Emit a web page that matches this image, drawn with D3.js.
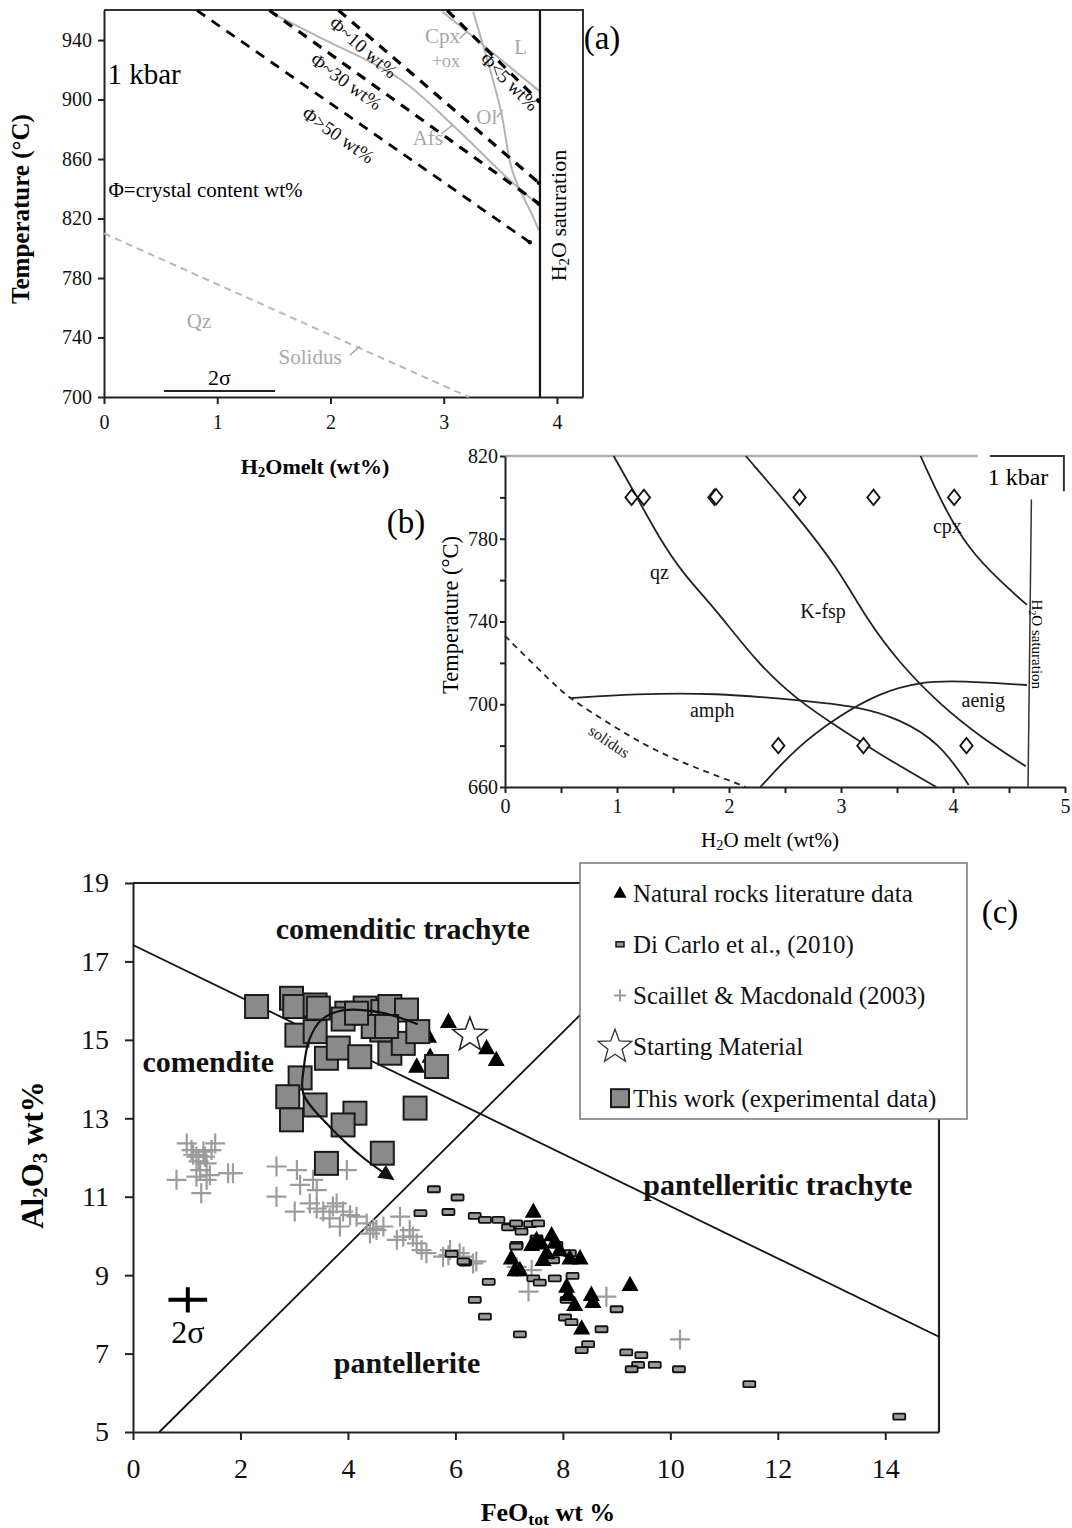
<!DOCTYPE html>
<html>
<head>
<meta charset="utf-8">
<script src="https://cdn.jsdelivr.net/npm/d3@7"></script>
<style>
  body { margin: 0; background: #fff; }
  svg { display: block; }
</style>
</head>
<body>
<svg id="fig" width="1072" height="1528"></svg>
<script>
// ---------------- panel (a) data ----------------
const aXTicks = [0, 1, 2, 3, 4];
const aYTicks = [700, 740, 780, 820, 860, 900, 940];
const phi5 = [[3.03, 960], [3.84, 899]];
const phi10 = [[2.07, 960], [3.84, 844]];
const phi30 = [[1.46, 960], [3.84, 830]];
const phi50 = [[0.82, 960], [3.76, 804]];
const afsCurve = [[1.46, 959], [1.9, 942], [2.61, 914], [3.09, 882], [3.58, 846], [3.84, 829]];
const olCurve = [[3.26, 959], [3.5, 894], [3.61, 851], [3.79, 821], [3.84, 812]];
const cpxOxLine = [[2.99, 959], [3.84, 906]];
const solidusA = [[0, 810], [3.22, 700]];
const saturationA = 3.85;
const sigmaA = [[0.53, 704], [1.51, 704]];

// ---------------- panel (b) data ----------------
const bXTicks = [0, 0.5, 1, 1.5, 2, 2.5, 3, 3.5, 4, 4.5, 5];
const bYTicks = [660, 680, 700, 720, 740, 760, 780, 800, 820];
const qzCurve = [[0.97, 820], [1.19, 799], [1.37, 781], [1.59, 763], [1.88, 746], [2.25, 720], [2.61, 702], [2.97, 689], [3.34, 676], [3.85, 660]];
const kfspCurve = [[2.15, 820], [2.61, 791], [2.97, 766], [3.23, 741], [3.52, 720], [3.88, 700], [4.25, 684], [4.65, 670]];
const cpxCurveB = [[3.71, 820], [3.92, 795], [4.14, 775], [4.43, 759], [4.66, 748]];
const amphCurve = [[0.59, 703], [1.15, 705], [1.88, 705.5], [2.61, 702], [3.15, 699], [3.52, 693], [3.88, 681.5], [4.14, 661]];
const aenigCurve = [[2.28, 660], [2.61, 679.5], [2.97, 694], [3.34, 705.4], [3.71, 711], [4.07, 711.3], [4.66, 709.3]];
const solidusB = [[0, 733], [0.28, 718], [0.49, 707], [0.6, 702], [1.15, 683], [1.52, 673], [2.06, 662], [2.15, 660]];
const saturationB = [[4.70, 799], [4.67, 660]];
const bDiamonds = [[1.13, 800], [1.24, 800], [1.87, 800], [1.885, 800.3], [2.63, 800], [3.29, 800], [4.01, 800], [2.44, 680], [3.2, 680], [4.12, 680]];

// ---------------- panel (c) data ----------------
const cXTicks = [0, 2, 4, 6, 8, 10, 12, 14];
const cYTicks = [5, 7, 9, 11, 13, 15, 17, 19];
const trachyteLine = [[0, 17.42], [15, 7.43]];
const pantelleriteLine = [[0.49, 5], [10.8, 19]];
const thisWork = [
  [2.30, 15.85], [2.95, 16.06], [3.01, 15.85], [3.39, 15.89], [3.45, 15.81], [3.05, 15.12], [3.39, 15.21],
  [3.60, 14.53], [3.82, 14.79], [3.98, 15.68], [4.22, 14.57], [4.32, 15.81], [4.65, 15.72], [4.78, 15.85],
  [5.09, 15.76], [4.63, 15.25], [4.78, 14.66], [5.03, 14.91], [4.47, 15.34], [5.30, 15.21], [5.65, 14.32],
  [3.11, 14.03], [2.88, 13.55], [2.95, 12.96], [3.39, 13.34], [4.13, 13.13], [3.91, 12.83], [5.25, 13.26],
  [4.64, 12.11], [3.60, 11.85], [3.91, 15.53], [4.16, 15.68], [4.72, 15.34]
];
const naturalRocks = [
  [5.87, 15.46], [5.50, 15.08], [5.53, 14.57], [5.28, 14.32], [6.58, 14.79], [6.76, 14.49],
  [7.45, 10.62], [7.79, 10.02], [7.85, 9.85], [7.42, 9.77], [7.60, 9.81], [7.94, 9.64], [7.70, 9.56],
  [8.13, 9.43], [8.32, 9.43], [7.04, 9.43], [7.11, 9.13], [7.63, 9.39], [8.07, 8.71], [8.10, 8.50],
  [8.22, 8.24], [8.53, 8.50], [8.56, 8.32], [9.25, 8.75], [8.35, 7.64], [7.20, 9.13], [7.51, 9.90]
];
const diCarlo = [
  [5.60, 11.19], [6.04, 10.98], [5.87, 10.61], [5.35, 10.58], [6.36, 10.51], [6.55, 10.41], [6.80, 10.41],
  [7.01, 10.24], [7.23, 10.11], [7.14, 9.77], [6.62, 8.83], [5.93, 9.54], [6.18, 9.32], [6.98, 10.22],
  [7.13, 10.32], [7.39, 10.30], [7.54, 10.32], [7.51, 9.94], [7.13, 9.73], [7.88, 9.77], [8.13, 9.56],
  [7.82, 9.38], [6.15, 9.35], [7.45, 8.92], [7.57, 8.81], [7.85, 8.92], [8.18, 8.98], [6.36, 8.37],
  [8.07, 8.37], [6.55, 7.94], [8.04, 7.92], [8.16, 7.80], [7.20, 7.49], [8.72, 7.62], [9.00, 8.13],
  [8.47, 7.24], [8.35, 7.09], [9.18, 7.03], [9.46, 6.96], [9.40, 6.71], [9.28, 6.60], [9.71, 6.71],
  [10.16, 6.60], [11.47, 6.22], [14.26, 5.39]
];
const scaillet = [
  [1.00, 12.36], [1.09, 12.19], [1.18, 12.02], [1.34, 12.02], [1.46, 12.19], [1.53, 12.36], [1.37, 11.85],
  [1.25, 11.68], [1.43, 11.55], [0.81, 11.43], [1.77, 11.60], [1.86, 11.60], [1.27, 11.09], [1.37, 11.43],
  [1.18, 11.51], [1.12, 12.07], [1.31, 12.15], [1.22, 11.90],
  [2.67, 11.77], [3.05, 11.68], [3.11, 11.30], [3.35, 11.43], [3.42, 11.17], [2.67, 11.00], [3.98, 11.68],
  [3.01, 10.62], [3.29, 10.83], [3.42, 10.70], [3.54, 10.62], [3.72, 10.75], [3.79, 10.83], [3.91, 10.62],
  [4.04, 10.53], [4.16, 10.49], [3.85, 10.24], [3.66, 10.45], [4.35, 10.32], [4.47, 10.19], [4.53, 10.15],
  [4.41, 10.06], [4.66, 10.24], [4.97, 10.49], [4.91, 9.90], [5.03, 9.98], [5.15, 10.15], [5.21, 9.98],
  [5.28, 9.81], [5.37, 9.64], [5.46, 9.56], [5.77, 9.47], [5.90, 9.64], [6.15, 9.47], [6.33, 9.30],
  [5.87, 9.51], [6.08, 9.56], [6.39, 9.35], [7.14, 9.21], [7.42, 9.13], [7.36, 8.58], [8.81, 8.45],
  [10.18, 7.36]
];
const startingMaterial = [[6.27, 15.12]];
const evolutionArrow = [[5.3, 15.4], [4.6, 15.7], [3.9, 15.75], [3.5, 15.5], [3.28, 15.0], [3.18, 14.3], [3.17, 13.63], [3.67, 12.77], [4.28, 12.0], [4.84, 11.45]];
const sigmaC = [1.02, 8.37, 0.36, 0.32];

const serif = '"Liberation Serif","Times New Roman",serif';
const svg = d3.select("#fig").attr("font-family", serif);

function styleAxis(g, size) {
  g.attr("font-family", serif).attr("font-size", size);
  g.selectAll("text").attr("fill", "#111");
  g.selectAll("path, line").attr("stroke", "#222").attr("stroke-width", 2);
}

// text with subscripts: parts = [[string, isSub], ...]
function rich(t, parts, size) {
  let wasSub = false;
  parts.forEach(([s, sub]) => {
    const span = t.append("tspan").text(s);
    if (sub) {
      span.attr("font-size", size * 0.68).attr("dy", size * 0.25);
      wasSub = true;
    } else if (wasSub) {
      span.attr("dy", -size * 0.25);
      wasSub = false;
    }
  });
  return t;
}

// ======================= (a) =======================
const xA = d3.scaleLinear().domain([0, 4.23]).range([104, 583]);
const yA = d3.scaleLinear().domain([700, 960.2]).range([397, 10]);
const lineA = d3.line().x(d => xA(d[0])).y(d => yA(d[1]));
const pA = svg.append("g").attr("class", "panel-a");

pA.append("path")
  .attr("d", `M${xA(0)},${yA(960.2)}H${xA(4.23)}V${yA(700)}`)
  .attr("fill", "none").attr("stroke", "#333").attr("stroke-width", 2);

pA.append("g").attr("transform", `translate(0,${yA(700)})`)
  .call(d3.axisBottom(xA).tickValues(aXTicks).tickSize(7).tickSizeOuter(0).tickPadding(11).tickFormat(d3.format("d")))
  .call(styleAxis, 20);
pA.append("g").attr("transform", `translate(${xA(0)},0)`)
  .call(d3.axisLeft(yA).tickValues(aYTicks).tickSize(6).tickSizeOuter(0).tickPadding(6))
  .call(styleAxis, 20);

// gray phase boundaries
[afsCurve, olCurve, cpxOxLine].forEach(c => {
  pA.append("path").datum(c)
    .attr("d", lineA.curve(d3.curveCatmullRom))
    .attr("fill", "none").attr("stroke", "#b4b4b4").attr("stroke-width", 2);
});
lineA.curve(d3.curveLinear);

pA.append("path").datum(solidusA).attr("d", lineA)
  .attr("fill", "none").attr("stroke", "#b8b8b8").attr("stroke-width", 2)
  .attr("stroke-dasharray", "7,5");

// H2O saturation
pA.append("line")
  .attr("x1", xA(saturationA)).attr("x2", xA(saturationA))
  .attr("y1", yA(960.2)).attr("y2", yA(700))
  .attr("stroke", "#111").attr("stroke-width", 2.2);

// crystal content lines
const phiLines = [
  { pts: phi5, label: "Φ<5 wt%", at: [3.58, 912], w: 3.2 },
  { pts: phi10, label: "Φ~10 wt%", at: [2.29, 935], w: 3.2 },
  { pts: phi30, label: "Φ~30 wt%", at: [2.14, 912], w: 3.2 },
  { pts: phi50, label: "Φ>50 wt%", at: [2.07, 876], w: 2.8 }
];
phiLines.forEach(p => {
  pA.append("path").datum(p.pts).attr("d", lineA)
    .attr("fill", "none").attr("stroke", "#000").attr("stroke-width", p.w)
    .attr("stroke-dasharray", "10,8");
  const end = p.pts[1];
  pA.append("circle").attr("cx", xA(end[0])).attr("cy", yA(end[1])).attr("r", 2.2).attr("fill", "#000");
  const a = Math.atan2(yA(p.pts[1][1]) - yA(p.pts[0][1]), xA(p.pts[1][0]) - xA(p.pts[0][0])) * 180 / Math.PI;
  pA.append("text")
    .attr("transform", `translate(${xA(p.at[0])},${yA(p.at[1])}) rotate(${a})`)
    .attr("text-anchor", "middle").attr("dominant-baseline", "central")
    .attr("font-size", 19).attr("fill", "#111").text(p.label);
});

// gray labels
const grayLabelsA = [
  { t: "Cpx", at: [2.99, 943], s: 21 },
  { t: "+ox", at: [3.02, 926], s: 18 },
  { t: "L", at: [3.68, 935], s: 21 },
  { t: "Ol", at: [3.38, 888], s: 21 },
  { t: "Afs", at: [2.86, 874], s: 21 },
  { t: "Qz", at: [0.84, 751], s: 21 },
  { t: "Solidus", at: [1.82, 727], s: 21 }
];
grayLabelsA.forEach(l => {
  pA.append("text").attr("x", xA(l.at[0])).attr("y", yA(l.at[1]))
    .attr("text-anchor", "middle").attr("dominant-baseline", "central")
    .attr("font-size", l.s).attr("fill", "#a8a8a8").text(l.t);
});
// little leader ticks
[[[3.14, 941], [3.21, 946]], [[3.47, 888], [3.52, 893]], [[2.98, 877], [3.08, 883]], [[2.17, 728], [2.26, 734]]].forEach(s => {
  pA.append("path").datum(s).attr("d", lineA)
    .attr("fill", "none").attr("stroke", "#aaa").attr("stroke-width", 1.5);
});

// 2 sigma bar
pA.append("path").datum(sigmaA).attr("d", lineA)
  .attr("stroke", "#222").attr("stroke-width", 2);
pA.append("text").attr("x", xA(1.02)).attr("y", yA(713))
  .attr("text-anchor", "middle").attr("dominant-baseline", "central")
  .attr("font-size", 22).text("2σ");

pA.append("text").attr("x", xA(0.03)).attr("y", yA(917))
  .attr("dominant-baseline", "central").attr("font-size", 29).text("1 kbar");
pA.append("text").attr("x", xA(0.04)).attr("y", yA(839))
  .attr("dominant-baseline", "central").attr("font-size", 21).text("Φ=crystal content wt%");

rich(pA.append("text")
  .attr("transform", `translate(${xA(4.01)},${yA(822)}) rotate(-90)`)
  .attr("text-anchor", "middle").attr("dominant-baseline", "central")
  .attr("font-size", 22), [["H"], ["2", true], ["O saturation"]], 22);

pA.append("text")
  .attr("transform", "translate(20,209) rotate(-90)")
  .attr("text-anchor", "middle").attr("dominant-baseline", "central")
  .attr("font-size", 25).attr("font-weight", "bold").text("Temperature (°C)");
rich(pA.append("text").attr("x", 315).attr("y", 466)
  .attr("text-anchor", "middle").attr("dominant-baseline", "central")
  .attr("font-size", 22).attr("font-weight", "bold"),
  [["H"], ["2", true], ["Omelt  (wt%)"]], 22);
pA.append("text").attr("x", 602).attr("y", 38)
  .attr("text-anchor", "middle").attr("dominant-baseline", "central")
  .attr("font-size", 33).text("(a)");

// ======================= (b) =======================
const xB = d3.scaleLinear().domain([0, 5]).range([505, 1065]);
const yB = d3.scaleLinear().domain([660, 820]).range([787, 456]);
const lineB = d3.line().x(d => xB(d[0])).y(d => yB(d[1]));
const pB = svg.append("g").attr("class", "panel-b");

pB.append("line").attr("x1", xB(0)).attr("x2", xB(4.22)).attr("y1", yB(820)).attr("y2", yB(820))
  .attr("stroke", "#b0b0b0").attr("stroke-width", 2.5);
pB.append("path").attr("d", `M${xB(4.33)},${yB(820)}H${xB(4.99)}V${yB(803)}`)
  .attr("fill", "none").attr("stroke", "#333").attr("stroke-width", 2);

pB.append("g").attr("transform", `translate(0,${yB(660)})`)
  .call(d3.axisBottom(xB).tickValues(bXTicks).tickSize(6).tickSizeOuter(0).tickPadding(6)
    .tickFormat(d => Number.isInteger(d) ? d : ""))
  .call(styleAxis, 20);
pB.append("g").attr("transform", `translate(${xB(0)},0)`)
  .call(d3.axisLeft(yB).tickValues(bYTicks).tickSize(5).tickSizeOuter(0).tickPadding(2)
    .tickFormat(d => d % 40 === 20 ? d : ""))
  .call(styleAxis, 20);

[qzCurve, kfspCurve, cpxCurveB, amphCurve, aenigCurve].forEach(c => {
  pB.append("path").datum(c).attr("d", lineB.curve(d3.curveBasis))
    .attr("fill", "none").attr("stroke", "#222").attr("stroke-width", 1.8);
});
pB.append("path").datum(solidusB).attr("d", lineB.curve(d3.curveBasis))
  .attr("fill", "none").attr("stroke", "#222").attr("stroke-width", 1.8)
  .attr("stroke-dasharray", "6,5");
pB.append("path").datum(saturationB).attr("d", lineB.curve(d3.curveLinear))
  .attr("fill", "none").attr("stroke", "#333").attr("stroke-width", 1.5);

const wideDiamond = {
  draw(ctx, size) {
    const h = Math.sqrt(size) / 2, w = h * 0.8;
    ctx.moveTo(0, -h); ctx.lineTo(w, 0); ctx.lineTo(0, h); ctx.lineTo(-w, 0); ctx.closePath();
  }
};
pB.selectAll(".diamond").data(bDiamonds).enter().append("path")
  .attr("class", "diamond")
  .attr("transform", d => `translate(${xB(d[0])},${yB(d[1])})`)
  .attr("d", d3.symbol(wideDiamond, 240))
  .attr("fill", "#fff").attr("stroke", "#111").attr("stroke-width", 1.8);

const labelsB = [
  { t: "qz", at: [1.38, 764] }, { t: "K-fsp", at: [2.84, 745] }, { t: "cpx", at: [3.95, 786] },
  { t: "amph", at: [1.85, 697] }, { t: "aenig", at: [4.27, 702] }
];
labelsB.forEach(l => {
  pB.append("text").attr("x", xB(l.at[0])).attr("y", yB(l.at[1]))
    .attr("text-anchor", "middle").attr("dominant-baseline", "central")
    .attr("font-size", 20).attr("fill", "#111").text(l.t);
});
pB.append("text")
  .attr("transform", `translate(${xB(0.93)},${yB(682)}) rotate(34)`)
  .attr("text-anchor", "middle").attr("dominant-baseline", "central")
  .attr("font-size", 16).attr("fill", "#222").text("solidus");
pB.append("text").attr("x", xB(4.58)).attr("y", yB(810))
  .attr("text-anchor", "middle").attr("dominant-baseline", "central")
  .attr("font-size", 24).text("1 kbar");
rich(pB.append("text")
  .attr("transform", `translate(${xB(4.75)},${yB(729)}) rotate(90)`)
  .attr("text-anchor", "middle").attr("dominant-baseline", "central")
  .attr("font-size", 15), [["H"], ["2", true], ["O saturation"]], 15);
pB.append("text")
  .attr("transform", "translate(450,615) rotate(-90)")
  .attr("text-anchor", "middle").attr("dominant-baseline", "central")
  .attr("font-size", 22.5).text("Temperature (°C)");
rich(pB.append("text").attr("x", 770).attr("y", 840)
  .attr("text-anchor", "middle").attr("dominant-baseline", "central")
  .attr("font-size", 21), [["H"], ["2", true], ["O melt (wt%)"]], 21);
pB.append("text").attr("x", 406).attr("y", 522)
  .attr("text-anchor", "middle").attr("dominant-baseline", "central")
  .attr("font-size", 33).text("(b)");

// ======================= (c) =======================
const xC = d3.scaleLinear().domain([0, 15]).range([133, 939]);
const yC = d3.scaleLinear().domain([5, 19]).range([1432, 883]);
const lineC = d3.line().x(d => xC(d[0])).y(d => yC(d[1]));
const pC = svg.append("g").attr("class", "panel-c");

pC.append("path").attr("d", `M${xC(0)},${yC(19)}H${xC(15)}V${yC(5)}`)
  .attr("fill", "none").attr("stroke", "#222").attr("stroke-width", 2.2);
pC.append("g").attr("transform", `translate(0,${yC(5)})`)
  .call(d3.axisBottom(xC).tickValues(cXTicks).tickSize(8).tickSizeOuter(0).tickPadding(18))
  .call(styleAxis, 28);
pC.append("g").attr("transform", `translate(${xC(0)},0)`)
  .call(d3.axisLeft(yC).tickValues(cYTicks).tickSize(8).tickSizeOuter(0).tickPadding(16))
  .call(styleAxis, 28);

[trachyteLine, pantelleriteLine].forEach(l => {
  pC.append("path").datum(l).attr("d", lineC)
    .attr("fill", "none").attr("stroke", "#111").attr("stroke-width", 1.8);
});

const regionLabels = [
  { t: "comenditic trachyte", at: [5.02, 17.85] },
  { t: "comendite", at: [1.40, 14.44] },
  { t: "pantelleritic trachyte", at: [12.0, 11.30] },
  { t: "pantellerite", at: [5.10, 6.76] }
];
regionLabels.forEach(l => {
  pC.append("text").attr("x", xC(l.at[0])).attr("y", yC(l.at[1]))
    .attr("text-anchor", "middle").attr("dominant-baseline", "central")
    .attr("font-size", 30).attr("font-weight", "bold").attr("fill", "#111").text(l.t);
});

// markers
const triangle = {
  draw(ctx, size) {
    const w = Math.sqrt(size), h = w * 0.9;
    ctx.moveTo(0, -h * 0.6); ctx.lineTo(w / 2, h * 0.4); ctx.lineTo(-w / 2, h * 0.4); ctx.closePath();
  }
};
const star = {
  draw(ctx, size) {
    const R = Math.sqrt(size) / 2, r = R * 0.42;
    for (let i = 0; i < 10; i++) {
      const rad = i % 2 === 0 ? R : r;
      const a = -Math.PI / 2 + i * Math.PI / 5;
      if (i === 0) ctx.moveTo(rad * Math.cos(a), rad * Math.sin(a));
      else ctx.lineTo(rad * Math.cos(a), rad * Math.sin(a));
    }
    ctx.closePath();
  }
};
function drawCross(g, x, y, half, color, w) {
  g.append("path").attr("d", `M${x - half},${y}H${x + half}M${x},${y - half}V${y + half}`)
    .attr("stroke", color).attr("stroke-width", w).attr("fill", "none");
}

const crossG = pC.append("g");
scaillet.forEach(d => drawCross(crossG, xC(d[0]), yC(d[1]), 10, "#9c9c9c", 2.2));

pC.selectAll(".dicarlo").data(diCarlo).enter().append("rect")
  .attr("class", "dicarlo")
  .attr("x", d => xC(d[0]) - 6).attr("y", d => yC(d[1]) - 3)
  .attr("width", 12).attr("height", 6).attr("rx", 1)
  .attr("fill", "#9a9a9a").attr("stroke", "#111").attr("stroke-width", 1.8);

pC.selectAll(".tri").data(naturalRocks).enter().append("path")
  .attr("class", "tri")
  .attr("transform", d => `translate(${xC(d[0])},${yC(d[1])})`)
  .attr("d", d3.symbol(triangle, 290)).attr("fill", "#000");

pC.selectAll(".sq").data(thisWork).enter().append("rect")
  .attr("class", "sq")
  .attr("x", d => xC(d[0]) - 11.5).attr("y", d => yC(d[1]) - 11.5)
  .attr("width", 23).attr("height", 23)
  .attr("fill", "#8a8a8a").attr("stroke", "#1a1a1a").attr("stroke-width", 2);

pC.selectAll(".star").data(startingMaterial).enter().append("path")
  .attr("class", "star")
  .attr("transform", d => `translate(${xC(d[0])},${yC(d[1])})`)
  .attr("d", d3.symbol(star, 1300))
  .attr("fill", "#fff").attr("stroke", "#222").attr("stroke-width", 1.5);

// arrow
svg.append("defs").append("marker")
  .attr("id", "arrowhead").attr("viewBox", "0 0 10 10").attr("refX", 9).attr("refY", 5)
  .attr("markerWidth", 7).attr("markerHeight", 7).attr("orient", "auto")
  .attr("markerUnits", "strokeWidth")
  .append("path").attr("d", "M0,0L10,5L0,10Z").attr("fill", "#111");
pC.append("path").datum(evolutionArrow)
  .attr("d", lineC.curve(d3.curveCatmullRom))
  .attr("fill", "none").attr("stroke", "#111").attr("stroke-width", 2.2)
  .attr("marker-end", "url(#arrowhead)");
lineC.curve(d3.curveLinear);

// 2 sigma cross
const [sx, sy, sdx, sdy] = sigmaC;
pC.append("path")
  .attr("d", `M${xC(sx - sdx)},${yC(sy)}H${xC(sx + sdx)}M${xC(sx)},${yC(sy + sdy)}V${yC(sy - sdy)}`)
  .attr("stroke", "#000").attr("stroke-width", 4).attr("fill", "none");
pC.append("text").attr("x", xC(sx)).attr("y", yC(7.55))
  .attr("text-anchor", "middle").attr("dominant-baseline", "central")
  .attr("font-size", 32).text("2σ");

// legend
const legendItems = [
  { kind: "tri", label: "Natural rocks literature data" },
  { kind: "rect", label: "Di Carlo et al., (2010)" },
  { kind: "cross", label: "Scaillet & Macdonald (2003)" },
  { kind: "star", label: "Starting Material" },
  { kind: "sq", label: "This work (experimental data)" }
];
const leg = pC.append("g").attr("class", "legend");
leg.append("rect").attr("x", 580).attr("y", 863).attr("width", 387).attr("height", 256)
  .attr("fill", "#fff").attr("stroke", "#777").attr("stroke-width", 1.5);
legendItems.forEach((it, i) => {
  const cy = 893 + i * 51.3, mx = 620;
  if (it.kind === "tri") leg.append("path").attr("transform", `translate(${mx},${cy})`).attr("d", d3.symbol(triangle, 170)).attr("fill", "#000");
  if (it.kind === "rect") leg.append("rect").attr("x", mx - 4).attr("y", cy - 2.5).attr("width", 8).attr("height", 5).attr("fill", "#999").attr("stroke", "#111").attr("stroke-width", 1.5);
  if (it.kind === "cross") drawCross(leg, mx, cy, 6, "#9c9c9c", 2);
  if (it.kind === "star") leg.append("path").attr("transform", `translate(${mx - 5},${cy})`).attr("d", d3.symbol(star, 1250)).attr("fill", "#fff").attr("stroke", "#333").attr("stroke-width", 1.3);
  if (it.kind === "sq") leg.append("rect").attr("x", mx - 9).attr("y", cy - 9).attr("width", 18).attr("height", 18).attr("fill", "#8a8a8a").attr("stroke", "#1a1a1a").attr("stroke-width", 2);
  leg.append("text").attr("x", 633).attr("y", cy).attr("dominant-baseline", "central")
    .attr("font-size", 25).attr("fill", "#111").text(it.label);
});

pC.append("text").attr("x", 1000).attr("y", 912)
  .attr("text-anchor", "middle").attr("dominant-baseline", "central")
  .attr("font-size", 33).text("(c)");

rich(pC.append("text").attr("x", 548).attr("y", 1512)
  .attr("text-anchor", "middle").attr("dominant-baseline", "central")
  .attr("font-size", 26).attr("font-weight", "bold"),
  [["FeO"], ["tot", true], [" wt %"]], 26);
rich(pC.append("text")
  .attr("transform", "translate(32,1155) rotate(-90)")
  .attr("text-anchor", "middle").attr("dominant-baseline", "central")
  .attr("font-size", 31).attr("font-weight", "bold"),
  [["Al"], ["2", true], ["O"], ["3", true], [" wt%"]], 31);
</script>
</body>
</html>
